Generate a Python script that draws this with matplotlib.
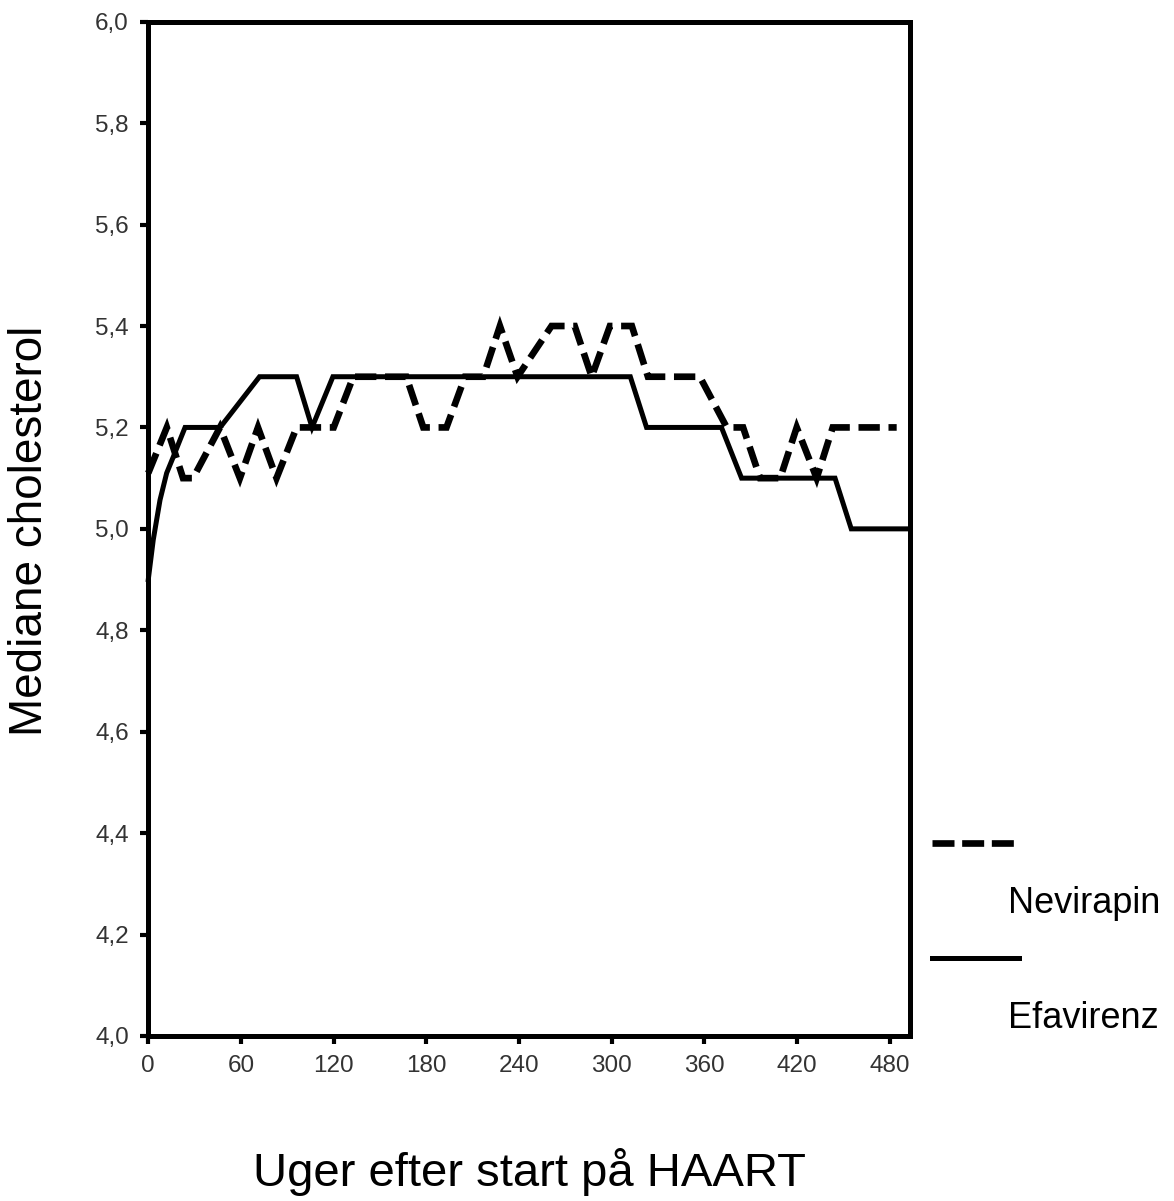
import matplotlib
matplotlib.use('Agg')
import numpy as np
from matplotlib import pyplot as plt
from matplotlib.lines import Line2D

plt.rcParams['font.family'] = ['Liberation Sans', 'DejaVu Sans']

# Nevirapin (dashed) - median cholesterol by week
weeks_nev = [0, 12, 22.5, 29, 46.4, 59.3, 71, 83, 96, 120, 132.7, 167, 178, 193,
             205, 216.8, 227.6, 239, 261, 276, 287, 298.8, 313, 323.4, 357,
             374.4, 385, 396, 409, 419.7, 432.6, 443, 484.4]
chol_nev = [5.11, 5.2, 5.1, 5.1, 5.2, 5.1, 5.2, 5.1, 5.2, 5.2, 5.3, 5.3, 5.2, 5.2,
            5.3, 5.3, 5.4, 5.3, 5.4, 5.4, 5.3, 5.4, 5.4, 5.3, 5.3,
            5.2, 5.2, 5.1, 5.1, 5.2, 5.1, 5.2, 5.2]

# Efavirenz (solid)
weeks_efa = [0, 3.2, 7.6, 11.9, 16.2, 20.5, 23.8, 46.5, 72, 96, 106, 119.5,
             312, 322.5, 371, 384, 444.5, 455, 493]
chol_efa = [4.9, 4.978, 5.057, 5.11, 5.142, 5.175, 5.2, 5.2, 5.3, 5.3, 5.2, 5.3,
            5.3, 5.2, 5.2, 5.1, 5.1, 5.0, 5.0]

xticks = [0, 60, 120, 180, 240, 300, 360, 420, 480]
yticks = [4.0, 4.2, 4.4, 4.6, 4.8, 5.0, 5.2, 5.4, 5.6, 5.8, 6.0]
ytick_labels = ['4,0', '4,2', '4,4', '4,6', '4,8', '5,0', '5,2', '5,4', '5,6', '5,8', '6,0']

fig = plt.figure(figsize=(11.74, 12.01), dpi=100)
ax = fig.add_axes([0.1263, 0.1374, 0.6488, 0.8445])

dash = (0, (3.2, 1.3))
ax.plot(weeks_nev, chol_nev, color='black', lw=4.8, linestyle=dash,
        dash_capstyle='butt', dash_joinstyle='miter', clip_on=False)
ax.plot(weeks_efa, chol_efa, color='black', lw=3.6,
        solid_joinstyle='miter', clip_on=False)

ax.set_xlim(0, 493)
ax.set_ylim(4.0, 6.0)
ax.set_xticks(xticks)
ax.set_yticks(yticks)
ax.set_yticklabels(ytick_labels)

for s in ax.spines.values():
    s.set_linewidth(3.6)
ax.tick_params(axis='both', direction='out', length=6, width=3, pad=8,
               labelsize=17.5, labelcolor='#333333')

fig.text(0.0256, 0.558, 'Mediane cholesterol', rotation=90, ha='center',
         va='center', fontsize=33)
fig.text(0.4506, 0.024, 'Uger efter start på HAART', ha='center',
         va='center', fontsize=34)

# legend: line sample above, label below (as in the original)
h_nev = Line2D([], [], color='black', lw=4.8, linestyle=(0, (3.3, 1.15)),
               dash_capstyle='butt')
h_efa = Line2D([], [], color='black', lw=3.6)
h_none = Line2D([], [], color='none')
leg = fig.legend([h_nev, h_none, h_efa, h_none],
                 ['', 'Nevirapin', '', 'Efavirenz'],
                 loc='upper left', bbox_to_anchor=(932 / 1174, 1 - 829 / 1201),
                 frameon=False, fontsize=26, handlelength=2.4,
                 handletextpad=-0.3, labelspacing=0.62, borderpad=0,
                 borderaxespad=0)

plt.savefig('out.png', dpi=100)
